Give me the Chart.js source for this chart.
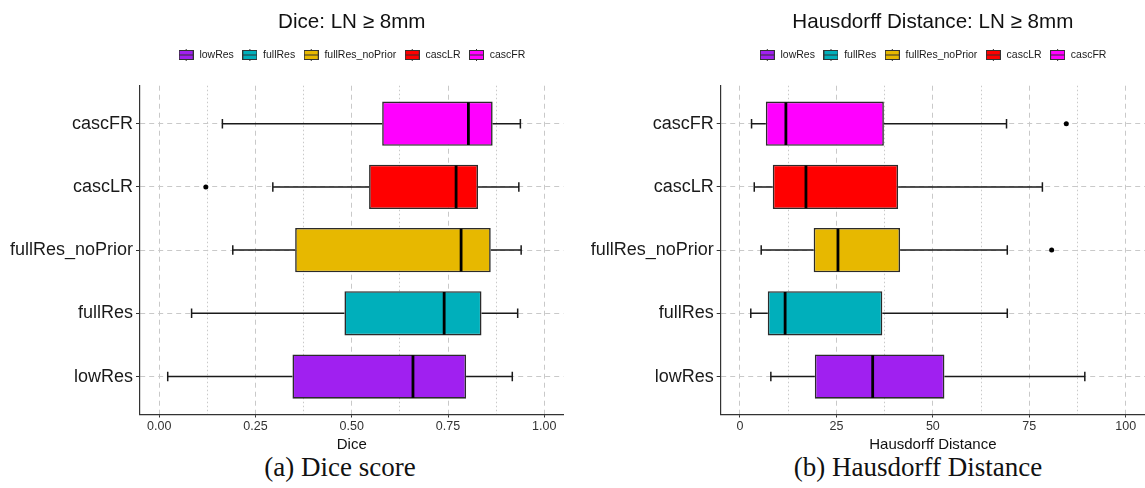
<!DOCTYPE html>
<html>
<head>
<meta charset="utf-8">
<script src="https://cdn.jsdelivr.net/npm/chart.js@4.4.1/dist/chart.umd.min.js"></script>
<style>
  body { margin: 0; background: #fff; width: 1145px; height: 488px; position: relative; overflow: hidden; font-family: "Liberation Sans", Arial, sans-serif; }
  canvas { position: absolute; top: 0; }
  #diceCanvas { left: 0; }
  #hdCanvas { left: 572px; }
  .caption { position: absolute; top: 452px; line-height: 30px; font-family: "Liberation Serif", serif; font-size: 27px; color: #111; white-space: nowrap; transform: translateX(-50%); }
</style>
</head>
<body>
<canvas id="diceCanvas" width="572" height="452"></canvas>
<canvas id="hdCanvas" width="573" height="452"></canvas>
<div class="caption" style="left:340px">(a) Dice score</div>
<div class="caption" style="left:918px">(b) Hausdorff Distance</div>
<script>
// categories, bottom to top
const categories = ['lowRes', 'fullRes', 'fullRes_noPrior', 'cascLR', 'cascFR'];
const colors = ['#A020F0', '#00AFBB', '#E7B800', '#FF0000', '#FF00FF'];

// Dice: whisker ends, quartiles, medians, outliers
const diceLow = [0.022, 0.084, 0.191, 0.295, 0.164];
const diceQ1 = [0.346, 0.481, 0.353, 0.545, 0.579];
const diceMed = [0.659, 0.740, 0.784, 0.771, 0.803];
const diceQ3 = [0.797, 0.837, 0.861, 0.828, 0.866];
const diceHigh = [0.917, 0.931, 0.940, 0.934, 0.938];
const diceOutliers = [[], [], [], [0.121], []];
const diceTicks = [0, 0.25, 0.5, 0.75, 1];
const diceTickLabels = ['0.00', '0.25', '0.50', '0.75', '1.00'];
const diceMinor = [0.125, 0.375, 0.625, 0.875];

// Hausdorff distance
const hdLow = [8.0, 2.8, 5.5, 3.7, 3.0];
const hdQ1 = [19.4, 7.2, 19.1, 8.5, 6.7];
const hdMed = [34.4, 11.7, 25.4, 17.1, 11.9];
const hdQ3 = [53.0, 36.9, 41.5, 41.0, 37.3];
const hdHigh = [89.4, 69.3, 69.3, 78.4, 69.1];
const hdOutliers = [[], [], [80.8], [], [84.6]];
const hdTicks = [0, 25, 50, 75, 100];
const hdTickLabels = ['0', '25', '50', '75', '100'];
const hdMinor = [12.5, 37.5, 62.5, 87.5];

const gridColor = '#c9c9c9';
const axisColor = '#333333';

// small boxplot glyphs for the legend
function makeGlyph(color) {
    const c = document.createElement('canvas');
    c.width = 15;
    c.height = 12;
    const g = c.getContext('2d');
    g.fillStyle = color;
    g.fillRect(0.5, 1.5, 14, 9);
    g.strokeStyle = axisColor;
    g.lineWidth = 1;
    g.strokeRect(0.5, 1.5, 14, 9);
    g.beginPath();
    g.moveTo(0.5, 6);
    g.lineTo(14.5, 6);
    g.moveTo(7.5, 0);
    g.lineTo(7.5, 1.5);
    g.moveTo(7.5, 10.5);
    g.lineTo(7.5, 12);
    g.stroke();
    return c;
}
const glyphs = colors.map(makeGlyph);

// whiskers, medians and outliers on top of the floating bars
const boxplotParts = {
    id: 'boxplotParts',
    afterDatasetsDraw(chart, args, opts) {
        const {ctx, scales: {x, y}} = chart;
        const meta = chart.getDatasetMeta(0);
        ctx.save();
        categories.forEach((c, i) => {
            const bar = meta.data[i];
            const yc = y.getPixelForValue(i);
            const half = bar.height / 2;
            const capTop = y.getPixelForValue(i + 0.075);
            const capBottom = y.getPixelForValue(i - 0.075);
            ctx.strokeStyle = '#1a1a1a';
            ctx.lineWidth = 1.5;
            ctx.beginPath();
            ctx.moveTo(x.getPixelForValue(opts.low[i]), yc);
            ctx.lineTo(x.getPixelForValue(opts.q1[i]), yc);
            ctx.moveTo(x.getPixelForValue(opts.q3[i]), yc);
            ctx.lineTo(x.getPixelForValue(opts.high[i]), yc);
            ctx.moveTo(x.getPixelForValue(opts.low[i]), capTop);
            ctx.lineTo(x.getPixelForValue(opts.low[i]), capBottom);
            ctx.moveTo(x.getPixelForValue(opts.high[i]), capTop);
            ctx.lineTo(x.getPixelForValue(opts.high[i]), capBottom);
            ctx.stroke();

            ctx.strokeStyle = '#000';
            ctx.lineWidth = 2.8;
            ctx.beginPath();
            ctx.moveTo(x.getPixelForValue(opts.med[i]), yc - half + 0.8);
            ctx.lineTo(x.getPixelForValue(opts.med[i]), yc + half - 0.8);
            ctx.stroke();

            ctx.fillStyle = '#000';
            opts.outliers[i].forEach(v => {
                ctx.beginPath();
                ctx.arc(x.getPixelForValue(v), yc, 2.5, 0, Math.PI * 2);
                ctx.fill();
            });
        });
        ctx.restore();
    }
};

function drawBoxChart(canvasId, cfg) {
    const ctx = document.getElementById(canvasId).getContext('2d');
    const allTicks = cfg.ticks.concat(cfg.minor).sort((a, b) => a - b);
    const isMajor = v => cfg.ticks.indexOf(v) >= 0;

    return new Chart(ctx, {
        type: 'bar',
        data: {
            datasets: [
                {
                    data: categories.map((c, i) => ({y: i, x: [cfg.q1[i], cfg.q3[i]]})),
                    backgroundColor: colors,
                    borderColor: '#2b2b2b',
                    borderWidth: 1.6,
                    borderSkipped: false,
                    barPercentage: 0.7,
                    categoryPercentage: 1
                }
            ]
        },
        plugins: [boxplotParts],
        options: {
            indexAxis: 'y',
            responsive: false,
            animation: false,
            events: [],
            layout: {
                padding: {left: 0, right: cfg.padRight, top: 0, bottom: 0}
            },
            scales: {
                x: {
                    type: 'linear',
                    min: cfg.min,
                    max: cfg.max,
                    afterBuildTicks: s => { s.ticks = allTicks.map(v => ({value: v})); },
                    ticks: {
                        autoSkip: false,
                        maxRotation: 0,
                        padding: 3,
                        color: '#333',
                        font: {size: 12.5, lineHeight: 1},
                        callback: v => {
                            const k = cfg.ticks.indexOf(v);
                            return k < 0 ? '' : cfg.tickLabels[k];
                        }
                    },
                    grid: {
                        color: gridColor,
                        tickLength: 3,
                        tickColor: c => (c.tick && isMajor(c.tick.value)) ? axisColor : 'rgba(0,0,0,0)'
                    },
                    border: {
                        color: axisColor,
                        width: 1.2,
                        dash: c => (c.tick && !isMajor(c.tick.value)) ? [1.5, 2.5] : [5, 4]
                    },
                    title: {
                        display: true,
                        text: cfg.xTitle,
                        color: '#111',
                        font: {size: 15, lineHeight: 1},
                        padding: {top: 1, bottom: 0}
                    }
                },
                y: {
                    type: 'linear',
                    min: -0.6,
                    max: 4.6,
                    offset: false,
                    afterBuildTicks: s => { s.ticks = categories.map((c, i) => ({value: i})); },
                    afterFit: s => { s.width = cfg.axisWidth; },
                    ticks: {
                        autoSkip: false,
                        padding: 3,
                        color: '#1a1a1a',
                        font: {size: 18},
                        callback: v => categories[v]
                    },
                    grid: {
                        offset: false,
                        color: gridColor,
                        tickLength: 4,
                        tickColor: axisColor
                    },
                    border: {
                        color: axisColor,
                        width: 1.2,
                        dash: [5, 4]
                    }
                }
            },
            plugins: {
                title: {
                    display: true,
                    text: cfg.title,
                    fullSize: false,
                    color: '#111',
                    font: {size: 20.6, weight: 'normal'},
                    padding: {top: 10, bottom: 7}
                },
                subtitle: {
                    display: true,
                    text: '',
                    fullSize: false,
                    weight: 500,
                    font: {size: 10, lineHeight: 1},
                    padding: {top: 5.5, bottom: 0}
                },
                legend: {
                    display: true,
                    position: 'top',
                    fullSize: false,
                    labels: {
                        usePointStyle: true,
                        pointStyleWidth: 16,
                        padding: 8,
                        color: '#1a1a1a',
                        font: {size: 10.5},
                        generateLabels: () => categories.map((c, i) => ({
                            text: c,
                            pointStyle: glyphs[i],
                            fillStyle: colors[i],
                            strokeStyle: axisColor,
                            lineWidth: 0,
                            hidden: false,
                            datasetIndex: 0,
                            fontColor: '#1a1a1a'
                        }))
                    }
                },
                tooltip: {enabled: false},
                boxplotParts: {
                    low: cfg.low,
                    q1: cfg.q1,
                    med: cfg.med,
                    q3: cfg.q3,
                    high: cfg.high,
                    outliers: cfg.outliers
                }
            }
        }
    });
}

drawBoxChart('diceCanvas', {
    title: 'Dice: LN \u2265 8mm',
    xTitle: 'Dice',
    min: -0.05, max: 1.05,
    ticks: diceTicks, tickLabels: diceTickLabels, minor: diceMinor,
    low: diceLow, q1: diceQ1, med: diceMed, q3: diceQ3, high: diceHigh, outliers: diceOutliers,
    axisWidth: 140, padRight: 8.5
});

drawBoxChart('hdCanvas', {
    title: 'Hausdorff Distance: LN \u2265 8mm',
    xTitle: 'Hausdorff Distance',
    min: -5, max: 105,
    ticks: hdTicks, tickLabels: hdTickLabels, minor: hdMinor,
    low: hdLow, q1: hdQ1, med: hdMed, q3: hdQ3, high: hdHigh, outliers: hdOutliers,
    axisWidth: 148.7, padRight: 0
});
</script>
</body>
</html>
